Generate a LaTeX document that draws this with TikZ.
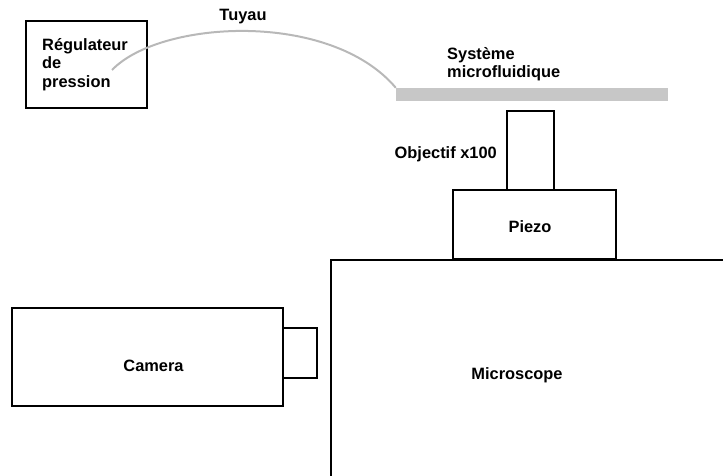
\documentclass[tikz,border=0pt]{standalone}
\usepackage{fontspec}
\setmainfont{Liberation Sans}
\begin{document}
\begin{tikzpicture}[x=1pt,y=-1pt,
  box/.style={draw=black,line width=1.8pt,rectangle,inner sep=0pt,fill=white},
  lbl/.style={font=\bfseries\fontsize{16.4}{18.5}\selectfont,inner sep=0pt,text=black},
  tube/.style={draw=black!28,line width=2pt}]
\useasboundingbox (0,0) rectangle (723,476);
\clip (0,0) rectangle (723,476);
% microscope (extends beyond the page)
\node[box,minimum width=420pt,minimum height=240pt] (micro) at (541,380) {};
\node[lbl] (microlbl) at (517,375) {Microscope};
% piezo and objective
\node[box,minimum width=163pt,minimum height=69pt] (piezo) at (534.5,224.5) {};
\node[lbl] (piezolbl) at (530,227) {Piezo};
\node[box,minimum width=47pt,minimum height=79pt] (obj) at (530.5,150.5) {};
\node[lbl,anchor=base east] (objlbl) at (497,158) {Objectif x100};
% microfluidic system
\node[rectangle,fill=black!22,inner sep=0pt,minimum width=272pt,minimum height=13pt] (chip) at (532,94.5) {};
\node[lbl,anchor=north west,align=left] (chiplbl) at (447,47) {Système\\microfluidique};
% pressure regulator
\node[box,minimum width=121pt,minimum height=87pt] (reg) at (86.5,64.5) {};
\node[lbl,anchor=north west,align=left] (reglbl) at (42,38) {Régulateur\\de\\pression};
% tube
\coordinate (tubestart) at (112,70);
\draw[tube] (tubestart) .. controls (160,20) and (330,10) .. (chip.north west);
\node[lbl] (tubelbl) at (243,17) {Tuyau};
% camera
\node[box,minimum width=271pt,minimum height=98pt] (cam) at (147.5,357) {};
\node[lbl] (camlbl) at (153.5,366) {Camera};
\node[box,minimum width=34pt,minimum height=50pt] (lens) at (300,353) {};
\end{tikzpicture}
\end{document}
